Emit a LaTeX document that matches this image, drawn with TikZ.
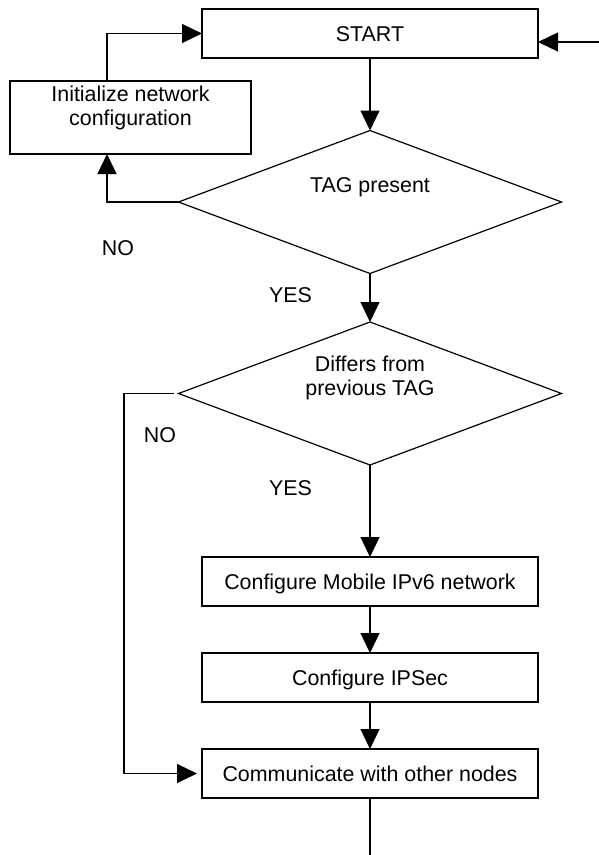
\documentclass[tikz,border=0pt]{standalone}
\usepackage{fontspec}
\setmainfont{Liberation Sans}
\usetikzlibrary{arrows.meta,shapes.geometric}

\begin{document}
\begin{tikzpicture}[x=1pt,y=1pt,
  every node/.style={font=\fontsize{21.4}{24}\selectfont, text depth=0pt, text height=15pt},
  flowbox/.style={draw, line width=1.2pt, rectangle, inner sep=0pt, outer sep=0pt,
                  minimum width=336pt, minimum height=49pt, align=center},
  decision/.style={draw, line width=1.2pt, diamond, inner sep=0pt, outer sep=0pt,
                   minimum width=383pt, minimum height=143pt},
  answer/.style={inner sep=0pt},
  arr/.style={line width=1.2pt, -{Triangle[length=20pt,width=19pt]}},
  plain/.style={line width=1.2pt}
]
\useasboundingbox (0,0) rectangle (599,-855);

% process steps
\node[flowbox] (start) at (370,-33.5) {START};
\node[flowbox, minimum width=241pt, minimum height=73pt] (init) at (130.5,-117.5)
  {Initialize network\\configuration};
\node[flowbox] (cfg6)  at (370,-581.5) {Configure Mobile IPv6 network};
\node[flowbox] (ipsec) at (370,-677.5) {Configure IPSec};
\node[flowbox] (comm)  at (370,-773.5) {Communicate with other nodes};

% decisions
\node[decision, label={[yshift=17pt, inner sep=0pt]center:TAG present}] (d1) at (370,-202) {};
\node[decision, label={[yshift=5.5pt, inner sep=0pt, align=center]center:Differs from\\previous TAG}] (d2) at (370,-393.5) {};

% branch labels
\node[answer] (no1)  at (118,-248)   {NO};
\node[answer] (yes1) at (290.5,-295) {YES};
\node[answer] (no2)  at (160,-435)   {NO};
\node[answer] (yes2) at (290.5,-488) {YES};

% auxiliary points for the loops
\coordinate (initbot) at ([xshift=-23.5pt]init.south);
\coordinate (inittop) at ([xshift=-23.5pt]init.north);
\coordinate (reentry) at (599,-42);
\coordinate (skipx)   at (124,-393.5);
\coordinate (exit)    at (370,-855);

% connectors
\draw[arr] (start.south) -- (d1.north);
\draw[arr] (d1.west) -| (initbot);
\draw[arr] (inittop) |- (start.west);
\draw[arr] (reentry) -- (reentry -| start.east);
\draw[arr] (d1.south) -- (d2.north);
\draw[arr, shorten <=5pt, shorten >=5pt] (d2.west) -- (skipx) |- (comm.west);
\draw[arr] (d2.south) -- (cfg6.north);
\draw[arr] (cfg6.south) -- (ipsec.north);
\draw[arr] (ipsec.south) -- (comm.north);
\draw[plain] (comm.south) -- (exit);
\end{tikzpicture}
\end{document}
